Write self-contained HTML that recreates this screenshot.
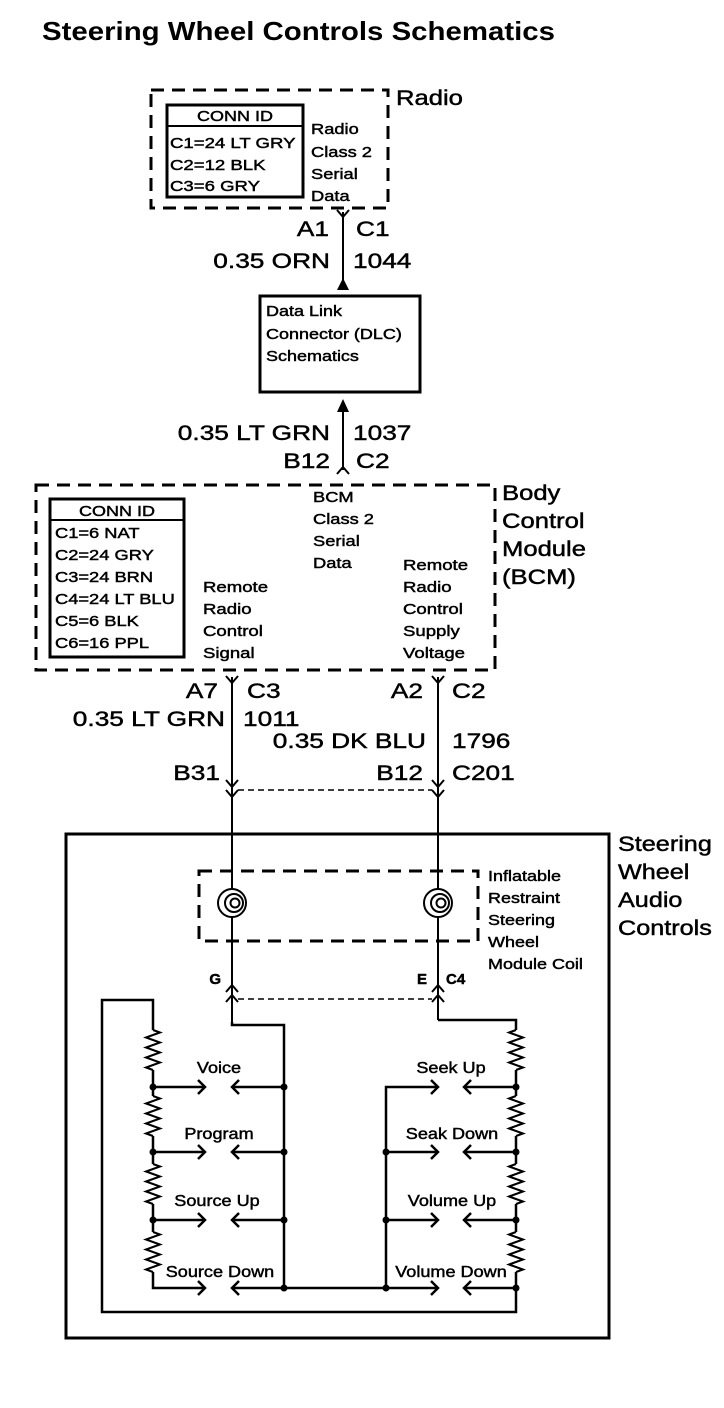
<!DOCTYPE html>
<html><head><meta charset="utf-8"><style>
html,body{margin:0;padding:0;background:#fff;}
svg{display:block;}
text{font-family:"Liberation Sans",Arial,sans-serif;fill:#000;stroke:#000;stroke-width:0.45;}
.s{font-size:15px;}
.m{font-size:21px;}
.l{font-size:21px;}
.lb{font-size:16px;}
.t{stroke-width:0;}
</style></head><body>
<svg width="724" height="1408" viewBox="0 0 724 1408" xmlns="http://www.w3.org/2000/svg" fill="none" stroke="#000">
<text x="42" y="40" font-size="26" font-weight="bold" class="t" textLength="513" lengthAdjust="spacingAndGlyphs">Steering Wheel Controls Schematics</text>

<!-- Radio -->
<rect x="151" y="90" width="237" height="118" stroke-width="3" stroke-dasharray="13 8"/>
<text transform="translate(396 105) scale(1.22 1)" class="l">Radio</text>
<rect x="167" y="105" width="136" height="92" stroke-width="3"/>
<line x1="167" y1="126" x2="303" y2="126" stroke-width="2"/>
<text transform="translate(235 121) scale(1.2 1)" text-anchor="middle" class="s">CONN ID</text>
<text transform="translate(170 148) scale(1.24 1)" class="s">C1=24 LT GRY</text>
<text transform="translate(170 170) scale(1.24 1)" class="s">C2=12 BLK</text>
<text transform="translate(170 191) scale(1.24 1)" class="s">C3=6 GRY</text>
<text transform="translate(311 134) scale(1.22 1)" class="s">Radio</text>
<text transform="translate(311 157) scale(1.22 1)" class="s">Class 2</text>
<text transform="translate(311 179) scale(1.22 1)" class="s">Serial</text>
<text transform="translate(311 201) scale(1.22 1)" class="s">Data</text>

<line x1="343" y1="212" x2="343" y2="290" stroke-width="2"/>
<polyline points="337,210 343,217 349,210" stroke-width="2"/>
<polygon points="343,278 337,290 349,290" fill="#000" stroke="none"/>
<text transform="translate(329 236) scale(1.25 1)" class="m" text-anchor="end">A1</text>
<text transform="translate(356 236) scale(1.25 1)" class="m">C1</text>
<text transform="translate(330 268) scale(1.25 1)" class="m" text-anchor="end">0.35 ORN</text>
<text transform="translate(353 268) scale(1.25 1)" class="m">1044</text>

<!-- DLC -->
<rect x="260" y="296" width="160" height="96" stroke-width="3"/>
<text transform="translate(266 316) scale(1.2 1)" class="s">Data Link</text>
<text transform="translate(266 339) scale(1.2 1)" class="s">Connector (DLC)</text>
<text transform="translate(266 361) scale(1.2 1)" class="s">Schematics</text>

<line x1="343" y1="410" x2="343" y2="470" stroke-width="2"/>
<polygon points="343,399 337,412 349,412" fill="#000" stroke="none"/>
<polyline points="337,474 343,467 349,474" stroke-width="2"/>
<text transform="translate(330 440) scale(1.25 1)" class="m" text-anchor="end">0.35 LT GRN</text>
<text transform="translate(353 440) scale(1.25 1)" class="m">1037</text>
<text transform="translate(330 468) scale(1.25 1)" class="m" text-anchor="end">B12</text>
<text transform="translate(356 468) scale(1.25 1)" class="m">C2</text>

<!-- BCM -->
<rect x="36" y="485" width="459" height="185" stroke-width="3" stroke-dasharray="13 8"/>
<text transform="translate(502 500) scale(1.22 1)" class="l">Body</text>
<text transform="translate(502 528) scale(1.22 1)" class="l">Control</text>
<text transform="translate(502 556) scale(1.22 1)" class="l">Module</text>
<text transform="translate(502 584) scale(1.22 1)" class="l">(BCM)</text>
<rect x="50" y="499" width="134" height="158" stroke-width="3"/>
<line x1="50" y1="520" x2="184" y2="520" stroke-width="2"/>
<text transform="translate(117 516) scale(1.2 1)" class="s" text-anchor="middle">CONN ID</text>
<text transform="translate(55 538) scale(1.22 1)" class="s">C1=6 NAT</text>
<text transform="translate(55 560) scale(1.22 1)" class="s">C2=24 GRY</text>
<text transform="translate(55 582) scale(1.22 1)" class="s">C3=24 BRN</text>
<text transform="translate(55 604) scale(1.22 1)" class="s">C4=24 LT BLU</text>
<text transform="translate(55 626) scale(1.22 1)" class="s">C5=6 BLK</text>
<text transform="translate(55 648) scale(1.22 1)" class="s">C6=16 PPL</text>
<text transform="translate(313 502) scale(1.22 1)" class="s">BCM</text>
<text transform="translate(313 524) scale(1.22 1)" class="s">Class 2</text>
<text transform="translate(313 546) scale(1.22 1)" class="s">Serial</text>
<text transform="translate(313 568) scale(1.22 1)" class="s">Data</text>
<text transform="translate(203 592) scale(1.24 1)" class="s">Remote</text>
<text transform="translate(203 614) scale(1.24 1)" class="s">Radio</text>
<text transform="translate(203 636) scale(1.24 1)" class="s">Control</text>
<text transform="translate(203 658) scale(1.24 1)" class="s">Signal</text>
<text transform="translate(403 570) scale(1.24 1)" class="s">Remote</text>
<text transform="translate(403 592) scale(1.24 1)" class="s">Radio</text>
<text transform="translate(403 614) scale(1.24 1)" class="s">Control</text>
<text transform="translate(403 636) scale(1.24 1)" class="s">Supply</text>
<text transform="translate(403 658) scale(1.24 1)" class="s">Voltage</text>

<!-- wires from BCM -->
<line x1="232" y1="677" x2="232" y2="1022" stroke-width="2"/>
<line x1="438" y1="677" x2="438" y2="1020" stroke-width="2"/>
<polyline points="226,676 232,683 238,676" stroke-width="2"/>
<polyline points="432,676 438,683 444,676" stroke-width="2"/>
<polyline points="226,780 232,787 238,780" stroke-width="2"/>
<polyline points="226,790 232,797 238,790" stroke-width="2"/>
<polyline points="432,780 438,787 444,780" stroke-width="2"/>
<polyline points="432,790 438,797 444,790" stroke-width="2"/>
<line x1="238" y1="790" x2="432" y2="790" stroke-width="1.5" stroke-dasharray="6 4"/>
<text transform="translate(218 698) scale(1.25 1)" class="m" text-anchor="end">A7</text>
<text transform="translate(247 698) scale(1.25 1)" class="m">C3</text>
<text transform="translate(225 726) scale(1.25 1)" class="m" text-anchor="end">0.35 LT GRN</text>
<text transform="translate(243 726) scale(1.25 1)" class="m">1011</text>
<text transform="translate(423 698) scale(1.25 1)" class="m" text-anchor="end">A2</text>
<text transform="translate(452 698) scale(1.25 1)" class="m">C2</text>
<text transform="translate(426 748) scale(1.25 1)" class="m" text-anchor="end">0.35 DK BLU</text>
<text transform="translate(452 748) scale(1.25 1)" class="m">1796</text>
<text transform="translate(220 780) scale(1.25 1)" class="m" text-anchor="end">B31</text>
<text transform="translate(423 780) scale(1.25 1)" class="m" text-anchor="end">B12</text>
<text transform="translate(452 780) scale(1.25 1)" class="m">C201</text>

<!-- Steering wheel box -->
<rect x="66" y="834" width="543" height="504" stroke-width="3"/>
<text transform="translate(618 851) scale(1.2 1)" class="l">Steering</text>
<text transform="translate(618 879) scale(1.2 1)" class="l">Wheel</text>
<text transform="translate(618 907) scale(1.2 1)" class="l">Audio</text>
<text transform="translate(618 935) scale(1.2 1)" class="l">Controls</text>
<rect x="199" y="871" width="279" height="70" stroke-width="3" stroke-dasharray="13 8"/>
<text transform="translate(488 881) scale(1.2 1)" class="s">Inflatable</text>
<text transform="translate(488 903) scale(1.2 1)" class="s">Restraint</text>
<text transform="translate(488 925) scale(1.2 1)" class="s">Steering</text>
<text transform="translate(488 947) scale(1.2 1)" class="s">Wheel</text>
<text transform="translate(488 969) scale(1.2 1)" class="s">Module Coil</text>
<!-- coils -->
<g stroke-width="2" fill="#fff">
<circle cx="232" cy="903" r="14"/>
<circle cx="438" cy="903" r="14"/>
</g>
<g stroke-width="2">
<circle cx="234" cy="903" r="9"/>
<circle cx="235" cy="903" r="4.5"/>
<circle cx="440" cy="903" r="9"/>
<circle cx="441" cy="903" r="4.5"/>
</g>

<polyline points="226,992 232,985 238,992" stroke-width="2"/>
<polyline points="226,1002 232,995 238,1002" stroke-width="2"/>
<polyline points="432,992 438,985 444,992" stroke-width="2"/>
<polyline points="432,1002 438,995 444,1002" stroke-width="2"/>
<line x1="238" y1="999" x2="432" y2="999" stroke-width="1.5" stroke-dasharray="6 4"/>
<text x="221" y="984" class="s" font-weight="bold" text-anchor="end">G</text>
<text x="427" y="984" class="s" font-weight="bold" text-anchor="end">E</text>
<text x="446" y="984" class="s" font-weight="bold">C4</text>

<!-- switch network -->
<g stroke-width="2.5">
<polyline points="232,1022 232,1025 284,1025 284,1288"/>
<polyline points="438,1020 516,1020 516,1312 102,1312 102,1000 153,1000 153,1288 205,1288"/>
<polyline points="284,1288 386,1288 386,1087 438,1087"/>
<line x1="153" y1="1087" x2="205" y2="1087"/>
<line x1="153" y1="1152" x2="205" y2="1152"/>
<line x1="153" y1="1220" x2="205" y2="1220"/>
<line x1="232" y1="1087" x2="284" y2="1087"/>
<line x1="232" y1="1152" x2="284" y2="1152"/>
<line x1="232" y1="1220" x2="284" y2="1220"/>
<line x1="232" y1="1288" x2="284" y2="1288"/>
<line x1="386" y1="1152" x2="438" y2="1152"/>
<line x1="386" y1="1220" x2="438" y2="1220"/>
<line x1="386" y1="1288" x2="438" y2="1288"/>
<line x1="464" y1="1087" x2="516" y2="1087"/>
<line x1="464" y1="1152" x2="516" y2="1152"/>
<line x1="464" y1="1220" x2="516" y2="1220"/>
<line x1="464" y1="1288" x2="516" y2="1288"/>
</g>
<g stroke="#fff" stroke-width="4">
<line x1="153" y1="1030" x2="153" y2="1070"/>
<line x1="153" y1="1096" x2="153" y2="1136"/>
<line x1="153" y1="1164" x2="153" y2="1204"/>
<line x1="153" y1="1232" x2="153" y2="1272"/>
<line x1="516" y1="1030" x2="516" y2="1070"/>
<line x1="516" y1="1096" x2="516" y2="1136"/>
<line x1="516" y1="1164" x2="516" y2="1204"/>
<line x1="516" y1="1232" x2="516" y2="1272"/>
</g>
<g stroke-width="2">
<path d="M153,1030 l7,2.5 l-14,5 l14,5 l-14,5 l14,5 l-14,5 l14,5 l-14,5 l7,2.5"/>
<path d="M153,1096 l7,2.5 l-14,5 l14,5 l-14,5 l14,5 l-14,5 l14,5 l-14,5 l7,2.5"/>
<path d="M153,1164 l7,2.5 l-14,5 l14,5 l-14,5 l14,5 l-14,5 l14,5 l-14,5 l7,2.5"/>
<path d="M153,1232 l7,2.5 l-14,5 l14,5 l-14,5 l14,5 l-14,5 l14,5 l-14,5 l7,2.5"/>
<path d="M516,1030 l-7,2.5 l14,5 l-14,5 l14,5 l-14,5 l14,5 l-14,5 l14,5 l-7,2.5"/>
<path d="M516,1096 l-7,2.5 l14,5 l-14,5 l14,5 l-14,5 l14,5 l-14,5 l14,5 l-7,2.5"/>
<path d="M516,1164 l-7,2.5 l14,5 l-14,5 l14,5 l-14,5 l14,5 l-14,5 l14,5 l-7,2.5"/>
<path d="M516,1232 l-7,2.5 l14,5 l-14,5 l14,5 l-14,5 l14,5 l-14,5 l14,5 l-7,2.5"/>
</g>
<g stroke-width="2.5">
<polyline points="198,1080 205,1087 198,1094"/>
<polyline points="198,1145 205,1152 198,1159"/>
<polyline points="198,1213 205,1220 198,1227"/>
<polyline points="198,1281 205,1288 198,1295"/>
<polyline points="239,1080 232,1087 239,1094"/>
<polyline points="239,1145 232,1152 239,1159"/>
<polyline points="239,1213 232,1220 239,1227"/>
<polyline points="239,1281 232,1288 239,1295"/>
<polyline points="431,1080 438,1087 431,1094"/>
<polyline points="431,1145 438,1152 431,1159"/>
<polyline points="431,1213 438,1220 431,1227"/>
<polyline points="431,1281 438,1288 431,1295"/>
<polyline points="471,1080 464,1087 471,1094"/>
<polyline points="471,1145 464,1152 471,1159"/>
<polyline points="471,1213 464,1220 471,1227"/>
<polyline points="471,1281 464,1288 471,1295"/>
</g>
<g fill="#000" stroke="none">
<circle cx="153" cy="1087" r="3.5"/><circle cx="153" cy="1152" r="3.5"/><circle cx="153" cy="1220" r="3.5"/>
<circle cx="284" cy="1087" r="3.5"/><circle cx="284" cy="1152" r="3.5"/><circle cx="284" cy="1220" r="3.5"/><circle cx="284" cy="1288" r="3.5"/>
<circle cx="386" cy="1152" r="3.5"/><circle cx="386" cy="1220" r="3.5"/><circle cx="386" cy="1288" r="3.5"/>
<circle cx="516" cy="1087" r="3.5"/><circle cx="516" cy="1152" r="3.5"/><circle cx="516" cy="1220" r="3.5"/><circle cx="516" cy="1288" r="3.5"/>
</g>
<text transform="translate(219 1073) scale(1.13 1)" text-anchor="middle" class="lb">Voice</text>
<text transform="translate(219 1139) scale(1.13 1)" text-anchor="middle" class="lb">Program</text>
<text transform="translate(217 1206) scale(1.13 1)" text-anchor="middle" class="lb">Source Up</text>
<text transform="translate(220 1277) scale(1.13 1)" text-anchor="middle" class="lb">Source Down</text>
<text transform="translate(451 1073) scale(1.13 1)" text-anchor="middle" class="lb">Seek Up</text>
<text transform="translate(452 1139) scale(1.13 1)" text-anchor="middle" class="lb">Seak Down</text>
<text transform="translate(452 1206) scale(1.13 1)" text-anchor="middle" class="lb">Volume Up</text>
<text transform="translate(451 1277) scale(1.13 1)" text-anchor="middle" class="lb">Volume Down</text>
</svg>
</body></html>
